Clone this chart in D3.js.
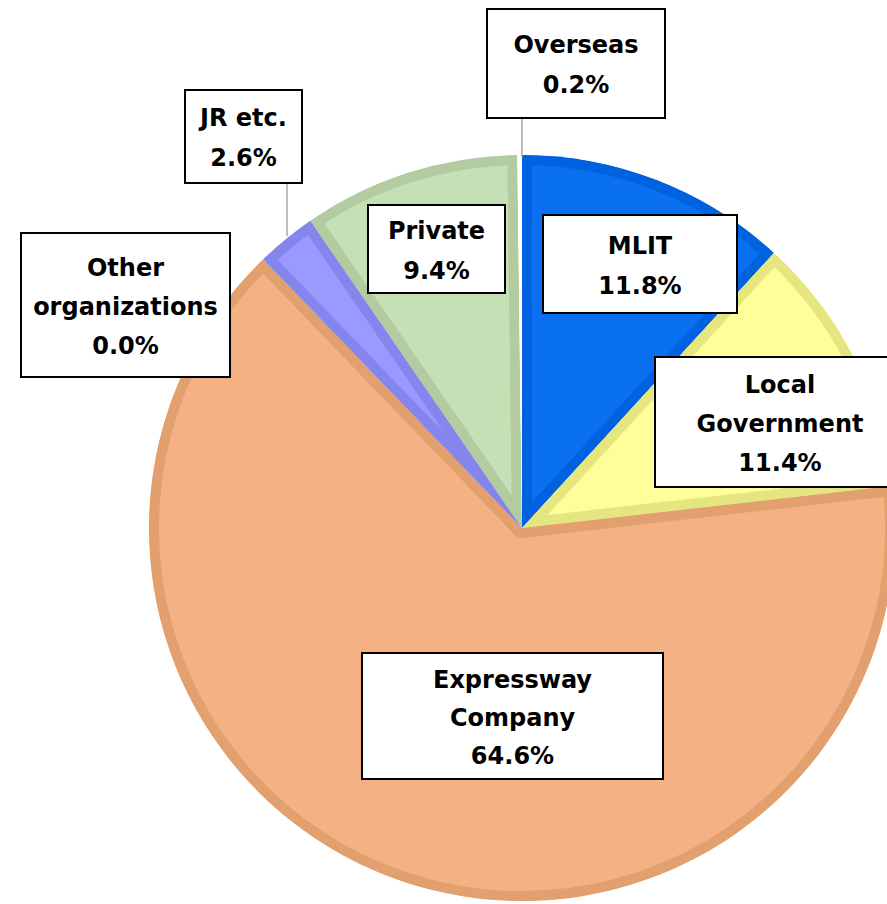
<!DOCTYPE html>
<html>
<head>
<meta charset="utf-8">
<script src="https://cdn.jsdelivr.net/npm/d3@7"></script>
<style>
  html, body { margin: 0; padding: 0; background: #ffffff; }
  svg { display: block; }
  text { font-family: "DejaVu Sans", sans-serif; font-weight: bold; }
</style>
</head>
<body>
<script>
// ---- data (clockwise from 12 o'clock) ----
const categories = ["MLIT", "Local Government", "Expressway Company", "Other organizations", "JR etc.", "Private", "Overseas"];
const shares = [11.8, 11.4, 64.6, 0.0, 2.6, 9.4, 0.2];
const labelLines = [
  ["MLIT"],
  ["Local", "Government"],
  ["Expressway", "Company"],
  ["Other", "organizations"],
  ["JR etc."],
  ["Private"],
  ["Overseas"]
];

// ---- styles / layout ----
const fills   = ["#0a70f2", "#ffff99", "#f4b183", "#a9d18e", "#9999ff", "#c5e0b4", "#ffffff"];
const borders = ["#0062de", "#e6e680", "#e2a06f", "#98bd80", "#8585ee", "#b3cba0", "#ffffff"];

const W = 887, H = 904;
const cx = 522, cy = 528, R = 373;

// label box layout (center x, center y, width, height, line spacing)
const boxLayout = [
  {x: 640,   y: 264,   w: 194, h: 98,  sp: 40},
  {x: 780,   y: 422,   w: 250, h: 130, sp: 39},
  {x: 512.5, y: 716,   w: 301, h: 126, sp: 38},
  {x: 125.5, y: 305,   w: 209, h: 144, sp: 39},
  {x: 243.5, y: 136.5, w: 117, h: 93,  sp: 40},
  {x: 436.5, y: 249,   w: 137, h: 88,  sp: 40},
  {x: 576,   y: 63.5,  w: 178, h: 109, sp: 40}
];
// leader lines from label box to pie edge
const leaders = [
  {i: 6, x: 522, y1: 118, y2: 157},
  {i: 4, x: 287, y1: 183, y2: 236}
];

const svg = d3.select("body").append("svg").attr("width", W).attr("height", H);

const data = categories.map((c, i) => ({name: c, value: shares[i], i}));
const pie = d3.pie().sort(null).value(d => d.value).startAngle(0).endAngle(2 * Math.PI);
const arc = d3.arc().innerRadius(0).outerRadius(R);
const arcs = pie(data);

const defs = svg.append("defs");

arcs.forEach((a, k) => {
  if (a.endAngle - a.startAngle <= 0) return;
  const id = "clip" + k;
  defs.append("clipPath").attr("id", id)
    .append("path").attr("d", arc(a)).attr("transform", `translate(${cx},${cy})`);
  const sg = svg.append("g").attr("clip-path", `url(#${id})`)
    .append("g").attr("transform", `translate(${cx},${cy})`);
  sg.append("path").attr("d", arc(a)).attr("fill", fills[a.data.i]);
  sg.append("path").attr("d", arc(a)).attr("fill", "none")
    .attr("stroke", borders[a.data.i]).attr("stroke-width", 20).attr("stroke-linejoin", "miter");
});

// leader lines
leaders.forEach(l => {
  svg.append("line").attr("x1", l.x).attr("x2", l.x).attr("y1", l.y1).attr("y2", l.y2)
    .attr("stroke", "#a6a6a6").attr("stroke-width", 1.5);
});

// label boxes
data.forEach((d, i) => {
  const b = boxLayout[i];
  const lines = labelLines[i].concat([d3.format(".1f")(d.value) + "%"]);
  const lg = svg.append("g");
  lg.append("rect")
    .attr("x", b.x - b.w / 2).attr("y", b.y - b.h / 2)
    .attr("width", b.w).attr("height", b.h)
    .attr("fill", "#ffffff").attr("stroke", "#000000").attr("stroke-width", 2);
  const n = lines.length;
  lines.forEach((t, j) => {
    lg.append("text")
      .attr("x", b.x)
      .attr("y", b.y + (j - (n - 1) / 2) * b.sp + 1.5)
      .attr("text-anchor", "middle")
      .attr("dominant-baseline", "central")
      .attr("font-size", 24)
      .attr("fill", "#000000")
      .text(t);
  });
});
</script>
</body>
</html>
